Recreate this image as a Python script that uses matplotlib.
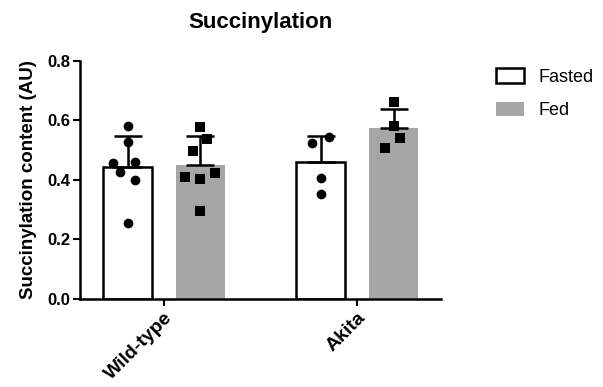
import matplotlib.pyplot as plt
import numpy as np
from matplotlib.patches import Patch

plt.rcParams['font.family'] = ['Liberation Sans', 'DejaVu Sans']

groups = ["Wild-type", "Akita"]
conditions = ["Fasted", "Fed"]

# bar heights (mean) and upper SD
fasted_mean = [0.444, 0.460]
fasted_sd = [0.105, 0.089]
fed_mean = [0.452, 0.576]
fed_sd = [0.096, 0.063]

# individual animals
wt_fasted = [0.582, 0.527, 0.458, 0.460, 0.428, 0.400, 0.254]
wt_fed = [0.577, 0.538, 0.497, 0.410, 0.402, 0.424, 0.297]
akita_fasted = [0.524, 0.543, 0.408, 0.354]
akita_fed = [0.663, 0.582, 0.541, 0.506]

# horizontal scatter of the dots within each bar
wt_fasted_jit = [0.004, 0.003, -0.077, 0.039, -0.039, 0.039, 0.003]
wt_fed_jit = [0.0, 0.036, -0.038, -0.078, -0.005, 0.073, 0.0]
akita_fasted_jit = [-0.042, 0.046, 0.0, 0.0]
akita_fed_jit = [0.0, 0.0, 0.034, -0.044]

fig = plt.figure(figsize=(6.03, 3.87), dpi=100)
ax = fig.add_axes([0.1327, 0.2274, 0.5987, 0.615])

x = np.arange(len(groups))
off = 0.189
w = 0.254
gray = '#a6a6a6'
lw = 1.8

ax.bar(x - off, fasted_mean, w, color='white', edgecolor='black', linewidth=lw, zorder=2)
ax.bar(x + off, fed_mean, w, color=gray, edgecolor='none', zorder=2)

ax.errorbar(x - off, fasted_mean, yerr=[np.zeros(2), fasted_sd], fmt='none',
            ecolor='black', elinewidth=lw, capsize=10, capthick=lw, zorder=3)
ax.errorbar(x + off, fed_mean, yerr=[np.zeros(2), fed_sd], fmt='none',
            ecolor='black', elinewidth=lw, capsize=10, capthick=lw, zorder=3)

pts = [(0 - off, wt_fasted, wt_fasted_jit, 'o'),
       (0 + off, wt_fed, wt_fed_jit, 's'),
       (1 - off, akita_fasted, akita_fasted_jit, 'o'),
       (1 + off, akita_fed, akita_fed_jit, 's')]
for cx, vals, jit, m in pts:
    ax.plot(cx + np.array(jit), vals, m, color='black', ms=7, mew=0, zorder=4)

ax.set_xlim(-0.435, 1.435)
ax.set_ylim(0, 0.8)
ax.set_yticks([0.0, 0.2, 0.4, 0.6, 0.8])
ax.set_yticklabels(['0.0', '0.2', '0.4', '0.6', '0.8'], fontweight='bold', fontsize=12)
ax.set_xticks(x)
ax.set_xticklabels(groups, rotation=45, ha='right', rotation_mode='anchor',
                   fontweight='bold', fontsize=14)

for s in ['top', 'right']:
    ax.spines[s].set_visible(False)
for s in ['left', 'bottom']:
    ax.spines[s].set_linewidth(lw)
ax.tick_params(axis='both', width=1.5, length=5, direction='out', pad=2)

ax.set_ylabel('Succinylation content (AU)', fontweight='bold', fontsize=13.5)
ax.yaxis.set_label_coords(-0.12, 0.5)
ax.set_title('Succinylation', fontweight='bold', fontsize=16, pad=24)

handles = [Patch(facecolor='white', edgecolor='black', linewidth=lw, label='Fasted'),
           Patch(facecolor=gray, edgecolor='none', label='Fed')]
ax.legend(handles=handles, loc='upper left', bbox_to_anchor=(1.108, 1.037),
          frameon=False, fontsize=13, handlelength=1.55, handleheight=0.83,
          labelspacing=0.9, handletextpad=0.78)

fig.savefig('out.png', dpi=100)
